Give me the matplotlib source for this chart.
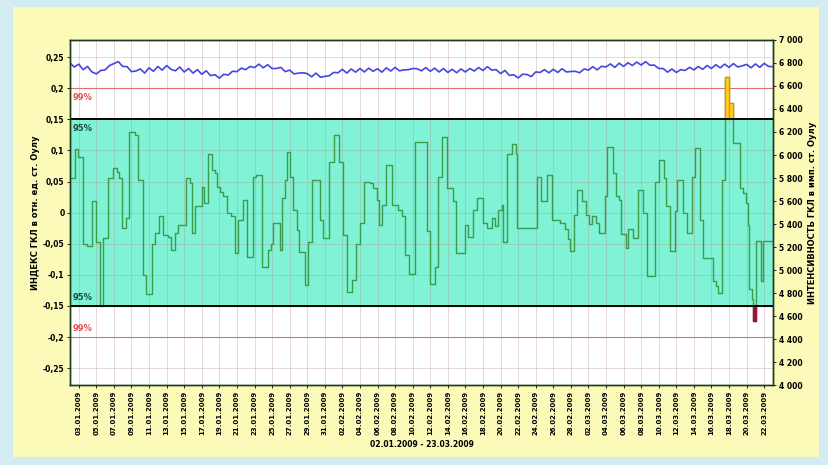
import numpy as np
import matplotlib
matplotlib.use("Agg")
import matplotlib.pyplot as plt
from matplotlib.patches import Rectangle

# Index of galactic cosmic rays (Oulu), step values: day offset from 02.01.2009 -> value
step_day = [0.0, 0.57, 0.95, 1.44, 1.9, 2.47, 2.96, 3.41, 3.79, 4.36,
            4.93, 5.31, 5.61, 5.88, 6.37, 6.75, 7.4, 7.78, 8.27, 8.65,
            9.3, 9.67, 10.16, 10.62, 11.19, 11.49, 11.95, 12.33, 13.2, 13.66,
            13.85, 14.23, 14.98, 15.25, 15.74, 16.12, 16.5, 16.69, 17.07, 17.45,
            17.83, 18.28, 18.78, 19.15, 19.65, 20.1, 20.79, 21.2, 21.81, 22.57,
            22.9, 23.14, 23.9, 24.09, 24.47, 24.66, 25.04, 25.41, 25.87, 26.1,
            26.74, 27.12, 27.5, 28.45, 28.83, 29.51, 30.04, 30.65, 31.1, 31.49,
            32.06, 32.55, 33.0, 33.46, 34.2, 34.52, 34.9, 35.2, 35.47, 35.96,
            36.6, 37.36, 37.74, 38.12, 38.62, 39.26, 40.59, 40.97, 41.54, 41.92,
            42.3, 42.94, 43.62, 43.93, 44.95, 45.33, 45.83, 46.28, 47.03, 47.5,
            47.99, 48.37, 48.74, 49.12, 49.31, 49.77, 50.26, 50.8, 50.9, 53.11,
            53.56, 54.32, 54.82, 55.76, 56.33, 56.71, 56.9, 57.36, 57.66, 58.23,
            58.72, 59.1, 59.37, 59.86, 60.23, 60.88, 61.08, 61.76, 62.13, 62.51,
            62.7, 63.27, 63.53, 64.1, 64.67, 65.17, 65.7, 66.57, 67.06, 67.6,
            67.82, 68.28, 68.85, 69.11, 69.72, 70.18, 70.75, 71.13, 71.69, 72.07,
            73.14, 73.51, 73.78, 74.23, 74.54, 75.03, 75.48, 76.25, 76.55, 76.93,
            77.19, 77.3, 77.57, 77.69, 78.07, 78.6, 78.9, 80.0]
step_val = [0.055, 0.102, 0.09, -0.05, -0.054, 0.019, -0.047, -0.15, -0.041, 0.055,
            0.071, 0.065, 0.055, -0.025, -0.009, 0.129, 0.125, 0.052, -0.1, -0.13,
            -0.05, -0.033, -0.006, -0.036, -0.039, -0.06, -0.033, -0.02, 0.055, 0.047,
            -0.033, 0.01, 0.042, 0.015, 0.095, 0.069, 0.064, 0.042, 0.034, 0.026,
            -0.001, -0.006, -0.065, -0.012, 0.02, -0.071, 0.058, 0.06, -0.087, -0.06,
            -0.05, -0.017, -0.06, 0.023, 0.052, 0.098, 0.058, 0.004, -0.028, -0.063,
            -0.116, -0.047, 0.052, -0.012, -0.041, 0.082, 0.125, 0.082, -0.036, -0.127,
            -0.108, -0.05, -0.017, 0.05, 0.047, 0.039, 0.02, -0.02, 0.012, 0.077,
            0.012, 0.004, -0.006, -0.068, -0.098, 0.114, -0.03, -0.114, -0.087, 0.058,
            0.122, 0.039, 0.018, -0.065, -0.02, -0.039, 0.004, 0.023, -0.017, -0.025,
            -0.009, -0.022, 0.004, 0.012, -0.047, 0.095, 0.111, 0.095, -0.025, 0.058,
            0.018, 0.06, -0.012, -0.017, -0.027, -0.043, -0.062, -0.003, 0.037, 0.018,
            -0.003, -0.019, -0.006, -0.017, -0.033, 0.026, 0.106, 0.063, 0.026, 0.021,
            -0.035, -0.057, -0.027, -0.041, 0.037, 0.0, -0.102, 0.05, 0.085, 0.055,
            0.01, -0.062, 0.002, 0.053, 0.0, -0.033, 0.058, 0.104, -0.011, -0.073,
            -0.11, -0.118, -0.129, 0.053, 0.218, 0.176, 0.112, 0.039, 0.031, 0.015,
            -0.02, -0.123, -0.139, -0.174, -0.046, -0.11, -0.046, -0.046]

# Oulu neutron monitor intensity, every half day
intensity = [6800, 6765, 6790, 6742, 6770, 6722, 6705, 6735, 6740, 6778,
             6795, 6812, 6770, 6768, 6725, 6730, 6748, 6712, 6758, 6728,
             6770, 6738, 6778, 6745, 6732, 6765, 6722, 6752, 6712, 6742,
             6702, 6732, 6690, 6698, 6668, 6702, 6695, 6728, 6725, 6755,
             6742, 6770, 6760, 6790, 6758, 6785, 6752, 6752, 6762, 6725,
             6738, 6705, 6712, 6715, 6708, 6680, 6712, 6676, 6684, 6688,
             6718, 6715, 6745, 6712, 6748, 6720, 6752, 6722, 6755, 6728,
             6750, 6720, 6758, 6730, 6762, 6732, 6740, 6742, 6752, 6750,
             6732, 6760, 6728, 6755, 6722, 6752, 6718, 6745, 6715, 6748,
             6722, 6752, 6730, 6760, 6735, 6768, 6738, 6742, 6708, 6735,
             6692, 6698, 6670, 6702, 6700, 6682, 6722, 6718, 6742, 6715,
             6745, 6718, 6750, 6722, 6726, 6728, 6715, 6748, 6738, 6768,
             6740, 6772, 6765, 6792, 6762, 6798, 6770, 6802, 6778, 6808,
             6782, 6812, 6780, 6782, 6752, 6752, 6720, 6748, 6718, 6742,
             6735, 6762, 6740, 6770, 6745, 6778, 6752, 6785, 6758, 6790,
             6762, 6795, 6765, 6775, 6788, 6758, 6792, 6762, 6797, 6770,
             6768]

tick_days = list(range(1, 80, 2))
date_labels = ["03.01.2009", "05.01.2009", "07.01.2009", "09.01.2009", "11.01.2009",
               "13.01.2009", "15.01.2009", "17.01.2009", "19.01.2009", "21.01.2009",
               "23.01.2009", "25.01.2009", "27.01.2009", "29.01.2009", "31.01.2009",
               "02.02.2009", "04.02.2009", "06.02.2009", "08.02.2009", "10.02.2009",
               "12.02.2009", "14.02.2009", "16.02.2009", "18.02.2009", "20.02.2009",
               "22.02.2009", "24.02.2009", "26.02.2009", "28.02.2009", "02.03.2009",
               "04.03.2009", "06.03.2009", "08.03.2009", "10.03.2009", "12.03.2009",
               "14.03.2009", "16.03.2009", "18.03.2009", "20.03.2009", "22.03.2009"]
left_ticks = [0.25, 0.2, 0.15, 0.1, 0.05, 0, -0.05, -0.1, -0.15, -0.2, -0.25]
left_labels = ["0,25", "0,2", "0,15", "0,1", "0,05", "0", "-0,05", "-0,1", "-0,15", "-0,2", "-0,25"]
right_ticks = list(range(4000, 7001, 200))

LIM95 = 0.15
LIM99 = 0.2

fig = plt.figure(figsize=(8.29, 4.65), dpi=100)
fig.patch.set_facecolor("#d3ebf2")
fig.patches.append(Rectangle((0.016, 0.018), 0.972, 0.967, transform=fig.transFigure,
                             facecolor="#fbfab8", edgecolor="none", zorder=-10))

ax = fig.add_axes([0.0844, 0.172, 0.848, 0.742])
ax.set_facecolor("white")
ax.set_xlim(0, 80)
ax.set_ylim(-0.277, 0.2775)

# 95% band and 99% levels
ax.axhspan(-LIM95, LIM95, color="#80f2d6", zorder=1)
ax.axhline(LIM95, color="black", lw=1.4, zorder=4)
ax.axhline(-LIM95, color="black", lw=1.4, zorder=4)
ax.axhline(LIM99, color="#e07070", lw=0.8, zorder=2)
ax.axhline(-LIM99, color="#e07070", lw=0.8, zorder=2)

# index curve
sd = np.array(step_day)
sv = np.array(step_val)
ax.step(sd, sv, where="post", color="#3c9c4c", lw=1.0, zorder=3)

# exceedances of the 95% level
for i in range(len(sd) - 1):
    if sv[i] > LIM95:
        ax.bar(sd[i], sv[i] - LIM95, width=sd[i + 1] - sd[i], bottom=LIM95, align="edge",
               facecolor="#ffd21e", edgecolor="#f08c00", lw=1.0, zorder=3.5)
    if sv[i] < -LIM95:
        ax.bar(sd[i], sv[i] + LIM95, width=sd[i + 1] - sd[i], bottom=-LIM95, align="edge",
               facecolor="#a0103c", edgecolor="#a0103c", lw=1.0, zorder=3.5)

ax.text(0.3, 0.193, "99%", color="#e05050", fontsize=6, fontweight="bold", va="top")
ax.text(0.3, -0.193, "99%", color="#e05050", fontsize=6, fontweight="bold", va="bottom")
ax.text(0.3, 0.143, "95%", color="#1a4a3c", fontsize=6, fontweight="bold", va="top", zorder=5)
ax.text(0.3, -0.143, "95%", color="#1a4a3c", fontsize=6, fontweight="bold", va="bottom", zorder=5)

ax.set_xticks(tick_days)
ax.set_xticklabels(date_labels, rotation=90, fontsize=5, fontweight="bold")
ax.set_yticks(left_ticks)
ax.set_yticklabels(left_labels, fontsize=5.5, fontweight="bold")
ax.tick_params(length=2, width=0.6, pad=2)
ax.grid(True, color="#b89090", alpha=0.4, lw=0.6)
ax.set_axisbelow("line")
for s in ax.spines.values():
    s.set_color("#1e3a1e")
    s.set_linewidth(1.0)

ax.set_ylabel("ИНДЕКС ГКЛ в отн. ед. ст. Оулу", fontsize=6, fontweight="bold")
ax.yaxis.set_label_coords(-0.043, 0.5)
ax.set_xlabel("02.01.2009 - 23.03.2009", fontsize=5.5, fontweight="bold")
ax.xaxis.set_label_coords(0.5, -0.158)

# intensity on the right axis
ax2 = ax.twinx()
ax2.set_ylim(4000, 7000)
ax2.plot(np.arange(len(intensity)) * 0.5, intensity, color="#4646e0", lw=1.2)
ax2.set_yticks(right_ticks)
ax2.set_yticklabels([f"{v // 1000} {v % 1000:03d}" for v in right_ticks],
                    fontsize=5.5, fontweight="bold")
ax2.tick_params(length=2, width=0.6, pad=2)
ax2.set_ylabel("ИНТЕНСИВНОСТЬ ГКЛ в имп. ст. Оулу", fontsize=6, fontweight="bold")
ax2.yaxis.set_label_coords(1.05, 0.5)
for s in ax2.spines.values():
    s.set_color("#1e3a1e")
    s.set_linewidth(1.0)

fig.savefig("out.png", dpi=100, facecolor=fig.get_facecolor())
